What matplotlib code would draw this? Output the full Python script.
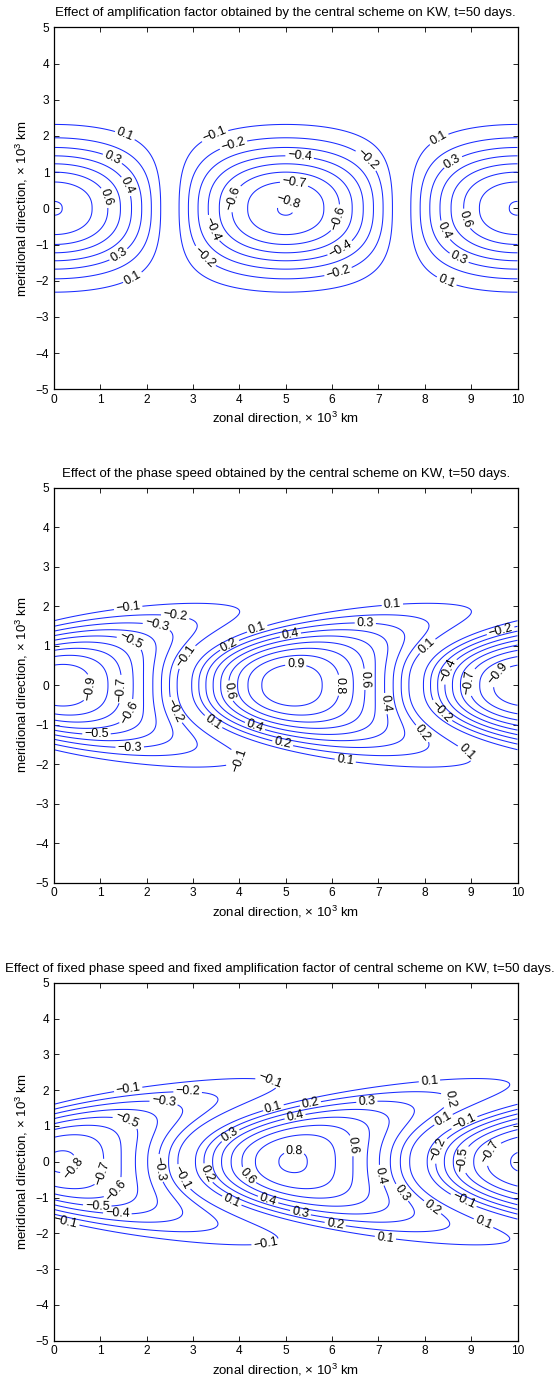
import matplotlib
matplotlib.use("Agg")
import matplotlib.pyplot as plt
import numpy as np

plt.rcParams["font.family"] = ["Liberation Sans", "DejaVu Sans"]
plt.rcParams["mathtext.default"] = "regular"

# Kelvin-wave fields at t=50 days, x and y in 10^3 km
WAVELENGTH = 10.0
TITLES = [
    "Effect of amplification factor obtained by the central scheme on KW, t=50 days.",
    "Effect of the phase speed obtained by the central scheme on KW, t=50 days.",
    "Effect of fixed phase speed and fixed amplification factor of central scheme on KW, t=50 days.",
]
AMPLITUDE = [0.805, 0.98, 0.815]       # peak value of the wave
CREST_X = [0.0, 5.1, 5.15]             # zonal position of the positive crest on the equator
HALF_WIDTH = [1.69, 1.47, 1.69]        # meridional e-folding scale
PROFILE_POWER = [2.33, 2.4, 2.33]
SHEAR_AT_2 = [0.0, 2.7, 2.8]           # eastward crest displacement at |y| = 2
SHEAR_POWER = [2.5, 2.5, 2.3]
SKEW = [0.0, 0.069, 0.069]             # phase distortion from the numerical phase speed

LEVELS = [
    [-0.8, -0.7, -0.6, -0.5, -0.4, -0.3, -0.2, -0.1, 0.1, 0.2, 0.3, 0.4, 0.5, 0.6, 0.7, 0.8],
    [-0.9, -0.8, -0.7, -0.6, -0.5, -0.4, -0.3, -0.2, -0.1, 0.1, 0.2, 0.3, 0.4, 0.5, 0.6, 0.7, 0.8, 0.9],
    [-0.8, -0.7, -0.6, -0.5, -0.4, -0.3, -0.2, -0.1, 0.1, 0.2, 0.3, 0.4, 0.5, 0.6, 0.7, 0.8],
]

X_TICKS = [0, 1, 2, 3, 4, 5, 6, 7, 8, 9, 10]
Y_TICKS = [-5, -4, -3, -2, -1, 0, 1, 2, 3, 4, 5]

# axes boxes in figure pixels: (top, bottom)
FIG_W, FIG_H = 560, 1381
AX_LEFT, AX_RIGHT = 54.0, 517.5
AX_ROWS = [(27.3, 389.3), (487.7, 882.7), (982.7, 1340.7)]
TITLE_X = [0.5, 0.5, 0.4876]

LABEL_SPACING = 150   # px between contour labels along a line
EDGE_MARGIN = 9       # keep labels this far inside the frame (px)
MIN_GAP = 20          # px between neighbouring label anchors


def kw_field(i, x, y):
    k = 2 * np.pi / WAVELENGTH
    shift = k * SHEAR_AT_2[i] * (np.abs(y) / 2.0) ** SHEAR_POWER[i]
    theta = k * (x - CREST_X[i]) - shift
    phase = theta + SKEW[i] * (np.cos(2 * theta) - 1)
    envelope = np.exp(-(np.abs(y) / HALF_WIDTH[i]) ** PROFILE_POWER[i])
    return AMPLITUDE[i] * envelope * np.cos(phase)


def fmt_level(v):
    return f"{v:.1f}".replace("-", "\u2212")


def label_points(ax, cs):
    """Spread label anchors along each contour line at a fixed on-screen spacing."""
    trans = ax.transData
    bbox = ax.get_window_extent()
    pts, kept = [], []
    for path in cs.get_paths():
        for seg in path.to_polygons(closed_only=False):
            if len(seg) < 3:
                continue
            d = trans.transform(seg)
            s = np.concatenate([[0.0], np.cumsum(np.hypot(*np.diff(d, axis=0).T))])
            total = s[-1]
            if total < 45:
                continue
            n = max(1, int(round(total / LABEL_SPACING)))
            for t in (np.arange(n) + 0.5) * total / n:
                j = min(np.searchsorted(s, t), len(seg) - 1)
                px, py = d[j]
                if (px < bbox.x0 + EDGE_MARGIN or px > bbox.x1 - EDGE_MARGIN or
                        py < bbox.y0 + EDGE_MARGIN or py > bbox.y1 - EDGE_MARGIN):
                    continue
                if any(np.hypot(px - qx, py - qy) < MIN_GAP for qx, qy in kept):
                    continue
                kept.append((px, py))
                pts.append(tuple(seg[j]))
    return pts


def main():
    x = np.linspace(0, 10, 601)
    y = np.linspace(-5, 5, 601)
    xx, yy = np.meshgrid(x, y)

    fig = plt.figure(figsize=(FIG_W / 100, FIG_H / 100), dpi=100)
    for i, (top, bottom) in enumerate(AX_ROWS):
        ax = fig.add_axes([AX_LEFT / FIG_W, 1 - bottom / FIG_H,
                           (AX_RIGHT - AX_LEFT) / FIG_W, (bottom - top) / FIG_H])
        ax.set_xlim(0, 10)
        ax.set_ylim(-5, 5)
        cs = ax.contour(xx, yy, kw_field(i, xx, yy), levels=LEVELS[i],
                        colors="#1a2cff", linewidths=0.75, linestyles="solid")
        ax.clabel(cs, fmt=fmt_level, fontsize=9, inline=True, inline_spacing=2,
                  colors="black", manual=label_points(ax, cs))

        ax.set_xticks(X_TICKS)
        ax.set_yticks(Y_TICKS)
        ax.set_yticklabels([str(t).replace("-", "\u2212") for t in Y_TICKS])
        ax.tick_params(direction="in", top=True, right=True, length=3.5, width=0.6,
                       labelsize=8.6, pad=3.4)
        for sp in ax.spines.values():
            sp.set_linewidth(0.9)
        ax.set_xlabel(r"zonal direction, $\times$ 10$^3$ km", fontsize=9.5, labelpad=3)
        ax.set_ylabel(r"meridional direction, $\times$ 10$^3$ km", fontsize=9.5, labelpad=4.5)
        ax.set_title(TITLES[i], fontsize=9.5, pad=7.8, x=TITLE_X[i])

    fig.savefig("out.png", dpi=100)
    plt.close(fig)


if __name__ == "__main__":
    main()
